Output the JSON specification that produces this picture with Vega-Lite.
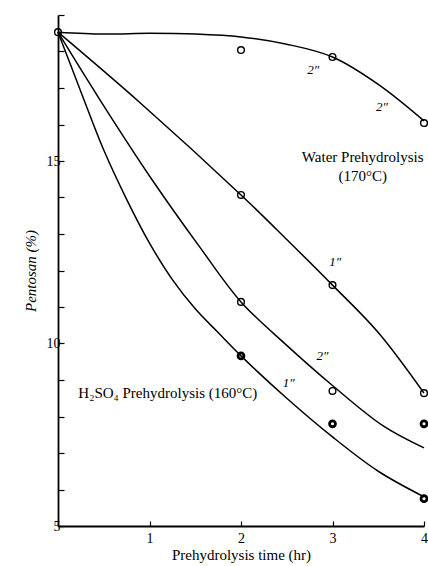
{
  "$schema": "https://vega.github.io/schema/vega-lite/v6.json",
  "width": 366,
  "height": 511,
  "autosize": {"type": "none"},
  "padding": {"left": 58, "top": 15, "right": 4, "bottom": 40},
  "background": "white",
  "config": {"view": {"stroke": null}},
  "datasets": {
    "curves": [
      {"curve": "A", "t": 0, "v": 18.53}, {"curve": "A", "t": 0.5, "v": 18.48}, {"curve": "A", "t": 1, "v": 18.5}, {"curve": "A", "t": 1.5, "v": 18.48}, {"curve": "A", "t": 2, "v": 18.4}, {"curve": "A", "t": 2.5, "v": 18.2}, {"curve": "A", "t": 3, "v": 17.85}, {"curve": "A", "t": 3.5, "v": 17.1}, {"curve": "A", "t": 4, "v": 16.1},
      {"curve": "B", "t": 0, "v": 18.53}, {"curve": "B", "t": 0.9, "v": 16.59}, {"curve": "B", "t": 2, "v": 14.07}, {"curve": "B", "t": 2.5, "v": 12.85}, {"curve": "B", "t": 3, "v": 11.6}, {"curve": "B", "t": 3.5, "v": 10.3}, {"curve": "B", "t": 4, "v": 8.64},
      {"curve": "C", "t": 0, "v": 18.53}, {"curve": "C", "t": 0.46, "v": 16.67}, {"curve": "C", "t": 1.03, "v": 14.48}, {"curve": "C", "t": 1.55, "v": 12.64}, {"curve": "C", "t": 2, "v": 11.14}, {"curve": "C", "t": 2.5, "v": 9.95}, {"curve": "C", "t": 3, "v": 8.85}, {"curve": "C", "t": 3.55, "v": 7.75}, {"curve": "C", "t": 4, "v": 7.14},
      {"curve": "D", "t": 0, "v": 18.53}, {"curve": "D", "t": 0.25, "v": 16.9}, {"curve": "D", "t": 0.5, "v": 15.3}, {"curve": "D", "t": 0.75, "v": 13.95}, {"curve": "D", "t": 1, "v": 12.75}, {"curve": "D", "t": 1.25, "v": 11.75}, {"curve": "D", "t": 1.5, "v": 10.95}, {"curve": "D", "t": 1.75, "v": 10.3}, {"curve": "D", "t": 2, "v": 9.66}, {"curve": "D", "t": 2.5, "v": 8.5}, {"curve": "D", "t": 3, "v": 7.44}, {"curve": "D", "t": 3.5, "v": 6.5}, {"curve": "D", "t": 4, "v": 5.8}
    ],
    "open": [
      {"t": 0, "v": 18.53}, {"t": 2, "v": 18.04}, {"t": 3, "v": 17.85}, {"t": 4, "v": 16.04},
      {"t": 2, "v": 14.07}, {"t": 3, "v": 11.6}, {"t": 4, "v": 8.64},
      {"t": 2, "v": 11.14}, {"t": 3, "v": 8.7}
    ],
    "bold": [
      {"t": 2, "v": 9.66}, {"t": 3, "v": 7.8}, {"t": 4, "v": 7.8}, {"t": 4, "v": 5.75}
    ],
    "labels": [
      {"t": 2.79, "v": 17.49, "text": "2″"},
      {"t": 3.54, "v": 16.48, "text": "2″"},
      {"t": 3.03, "v": 12.23, "text": "1″"},
      {"t": 2.89, "v": 9.66, "text": "2″"},
      {"t": 2.52, "v": 8.92, "text": "1″"}
    ],
    "notes": [
      {"t": 3.33, "v": 15.11, "text": "Water Prehydrolysis"},
      {"t": 3.33, "v": 14.59, "text": "(170°C)"},
      {"t": 1.2, "v": 8.64, "text": "H₂SO₄ Prehydrolysis (160°C)"}
    ]
  },
  "encoding": {
    "x": {
      "field": "t", "type": "quantitative",
      "scale": {"domain": [0, 4], "nice": false, "zero": false},
      "axis": {
        "values": [0, 1, 2, 3, 4],
        "labelExpr": "datum.value == 0 ? '' : datum.label",
        "grid": false, "tickSize": -5, "tickColor": "black", "domainColor": "black", "domainWidth": 1.8, "tickWidth": 1.2,
        "labelFont": "Liberation Serif", "labelFontSize": 14, "labelColor": "black", "labelPadding": 10, "labelFlush": false, "labelOverlap": false,
        "title": "Prehydrolysis time (hr)", "titleFont": "Liberation Serif", "titleFontSize": 15, "titleFontWeight": "normal", "titleColor": "black", "titlePadding": 2
      }
    },
    "y": {
      "field": "v", "type": "quantitative",
      "scale": {"domain": [5, 19], "nice": false, "zero": false},
      "axis": {
        "values": [5, 6, 7, 8, 9, 10, 11, 12, 13, 14, 15, 16, 17, 18, 19],
        "labelExpr": "datum.value % 5 == 0 ? datum.label : ''",
        "grid": false, "tickSize": -6, "tickColor": "black", "domainColor": "black", "domainWidth": 1.8, "tickWidth": 1.2,
        "labelFont": "Liberation Serif", "labelFontSize": 14, "labelColor": "black", "labelPadding": 4, "labelFlush": false, "labelOverlap": false,
        "title": "Pentosan (%)", "titleFont": "Liberation Serif", "titleFontSize": 15, "titleFontWeight": "normal", "titleFontStyle": "italic", "titleColor": "black", "titlePadding": 8
      }
    }
  },
  "layer": [
    {
      "data": {"name": "curves"},
      "mark": {"type": "line", "color": "black", "strokeWidth": 1.5, "interpolate": "catmull-rom"},
      "encoding": {"detail": {"field": "curve", "type": "nominal"}}
    },
    {
      "data": {"name": "open"},
      "mark": {"type": "point", "shape": "circle", "filled": false, "color": "black", "size": 45, "strokeWidth": 1.4, "opacity": 1}
    },
    {
      "data": {"name": "bold"},
      "mark": {"type": "point", "shape": "circle", "filled": false, "color": "black", "size": 35, "strokeWidth": 2.8, "opacity": 1}
    },
    {
      "data": {"name": "labels"},
      "mark": {"type": "text", "font": "Liberation Serif", "fontSize": 13, "fontStyle": "italic", "fill": "black", "align": "center", "baseline": "middle"},
      "encoding": {"text": {"field": "text", "type": "nominal"}}
    },
    {
      "data": {"name": "notes"},
      "mark": {"type": "text", "font": "Liberation Serif", "fontSize": 15, "fill": "black", "align": "center", "baseline": "middle"},
      "encoding": {"text": {"field": "text", "type": "nominal"}}
    }
  ]
}
